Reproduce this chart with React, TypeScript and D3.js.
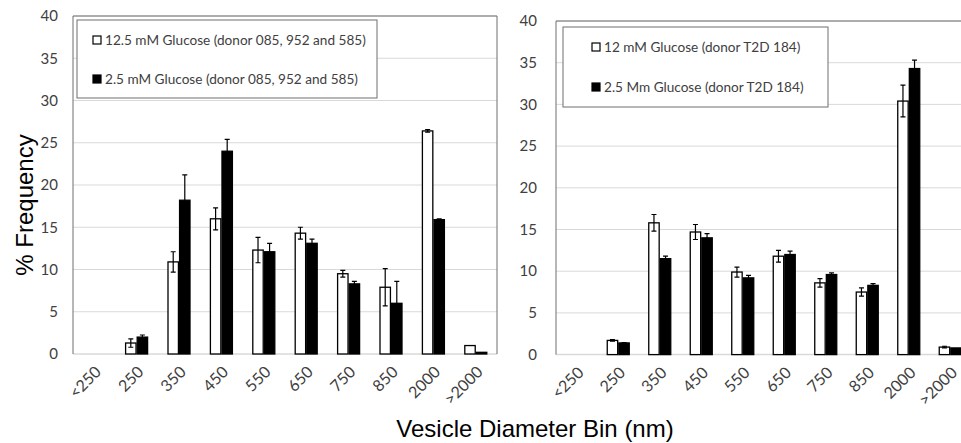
import React, { useEffect, useRef } from 'react';
import * as d3 from 'd3';

const categories = ['<250', '250', '350', '450', '550', '650', '750', '850', '2000', '>2000'];
const yTicks = [0, 5, 10, 15, 20, 25, 30, 35, 40];

// left panel: donors 085, 952 and 585
const leftHigh = [0, 1.3, 10.9, 16.0, 12.3, 14.3, 9.5, 7.9, 26.4, 1.0];
const leftHighErr = [0, 0.5, 1.2, 1.3, 1.5, 0.7, 0.4, 2.2, 0.15, 0];
const leftLow = [0, 2.0, 18.2, 24.0, 12.1, 13.1, 8.3, 6.0, 15.9, 0.2];
const leftLowErr = [0, 0.25, 3.0, 1.4, 1.0, 0.5, 0.3, 2.6, 0.1, 0];
const leftLegend = ['12.5 mM Glucose (donor 085, 952 and 585)', '2.5 mM Glucose (donor 085, 952 and 585)'];

// right panel: donor T2D 184
const rightHigh = [0, 1.7, 15.8, 14.7, 9.9, 11.8, 8.6, 7.5, 30.4, 0.9];
const rightHighErr = [0, 0.1, 1.0, 0.9, 0.6, 0.7, 0.5, 0.5, 1.9, 0.1];
const rightLow = [0, 1.4, 11.5, 14.0, 9.2, 12.0, 9.6, 8.3, 34.3, 0.8];
const rightLowErr = [0, 0.05, 0.3, 0.5, 0.3, 0.4, 0.2, 0.2, 1.0, 0];
const rightLegend = ['12 mM Glucose (donor T2D 184)', '2.5 Mm Glucose (donor T2D 184)'];

const tickFont = 'Lato, "Open Sans", sans-serif';
const titleFont = '"Liberation Sans", Arial, sans-serif';

type Panel = {
  x0: number; x1: number; yTop: number; yBottom: number;
  labelX: number;
  high: number[]; highErr: number[]; low: number[]; lowErr: number[];
  legend: string[];
  legendBox: { x: number; y: number; w: number; h: number; sx: number; rows: number[] };
};

const drawPanel = (svg: d3.Selection<SVGSVGElement, unknown, null, undefined>, p: Panel) => {
  const g = svg.append('g');

  const xScale = d3.scaleBand<string>().domain(categories).range([p.x0, p.x1]);
  const yScale = d3.scaleLinear().domain([0, 40]).range([p.yBottom, p.yTop]);
  const bw = xScale.bandwidth();
  const sub = d3.scaleBand<string>().domain(['high', 'low']).range([bw / 2 - 11, bw / 2 + 11]).paddingInner(0.1);

  // gridlines
  g.selectAll('.grid')
    .data(yTicks.filter(t => t > 0))
    .enter()
    .append('line')
    .attr('x1', p.x0).attr('x2', p.x1)
    .attr('y1', d => yScale(d)).attr('y2', d => yScale(d))
    .attr('stroke', '#d9d9d9').attr('stroke-width', 1);

  // baseline
  g.append('line')
    .attr('x1', p.x0).attr('x2', p.x1)
    .attr('y1', yScale(0)).attr('y2', yScale(0))
    .attr('stroke', '#d9d9d9').attr('stroke-width', 1.5);

  // frame (left, top, right)
  g.append('path')
    .attr('d', `M${p.x0},${p.yBottom} V${p.yTop} H${p.x1} V${p.yBottom}`)
    .attr('fill', 'none').attr('stroke', '#6e6e6e').attr('stroke-width', 1);

  // y tick labels
  g.selectAll('.ytick')
    .data(yTicks)
    .enter()
    .append('text')
    .attr('x', p.labelX)
    .attr('y', d => yScale(d))
    .attr('dy', '0.35em')
    .attr('text-anchor', 'end')
    .attr('font-family', tickFont).attr('font-size', 15).attr('fill', '#404040')
    .text(d => d);

  // x tick labels, rotated
  g.selectAll('.xtick')
    .data(categories)
    .enter()
    .append('text')
    .attr('transform', d => `translate(${(xScale(d) as number) + bw / 2 + 4},${p.yBottom + 15}) rotate(-45)`)
    .attr('text-anchor', 'end')
    .attr('dy', '0.35em')
    .attr('font-family', tickFont).attr('font-size', 16).attr('fill', '#404040')
    .text(d => d);

  const series = [
    { key: 'high', vals: p.high, errs: p.highErr, fill: '#ffffff' },
    { key: 'low', vals: p.low, errs: p.lowErr, fill: '#000000' }
  ];

  series.forEach(s => {
    const rows = categories.map((c, i) => ({ c, v: s.vals[i], e: s.errs[i] })).filter(d => d.v > 0);
    const sw = sub.bandwidth();
    g.selectAll(`.bar-${s.key}`)
      .data(rows)
      .enter()
      .append('rect')
      .attr('x', d => (xScale(d.c) as number) + (sub(s.key) as number))
      .attr('y', d => yScale(d.v))
      .attr('width', sw)
      .attr('height', d => yScale(0) - yScale(d.v))
      .attr('fill', s.fill)
      .attr('stroke', '#000').attr('stroke-width', 1.3);

    const errRows = rows.filter(d => d.e > 0);
    const cx = (d: { c: string }) => (xScale(d.c) as number) + (sub(s.key) as number) + sw / 2;
    g.selectAll(`.err-${s.key}`)
      .data(errRows)
      .enter()
      .append('path')
      .attr('d', d => {
        const x = cx(d);
        const yt = yScale(d.v + d.e);
        const yb = yScale(d.v - d.e);
        return `M${x},${yt} V${yb} M${x - 2.5},${yt} H${x + 2.5} M${x - 2.5},${yb} H${x + 2.5}`;
      })
      .attr('fill', 'none')
      .attr('stroke', '#000')
      .attr('stroke-width', 1.2);
  });

  // legend
  const lb = p.legendBox;
  const lg = g.append('g');
  lg.append('rect')
    .attr('x', lb.x).attr('y', lb.y).attr('width', lb.w).attr('height', lb.h)
    .attr('fill', '#fff').attr('stroke', '#6e6e6e').attr('stroke-width', 1);
  p.legend.forEach((label, i) => {
    lg.append('rect')
      .attr('x', lb.sx).attr('y', lb.rows[i] - 4).attr('width', 8).attr('height', 8)
      .attr('fill', series[i].fill).attr('stroke', '#000').attr('stroke-width', 1.2);
    lg.append('text')
      .attr('x', lb.sx + 12).attr('y', lb.rows[i])
      .attr('dy', '0.35em')
      .attr('font-family', tickFont).attr('font-size', 13.6).attr('fill', '#404040')
      .text(label);
  });
};

const App = () => {
  const ref = useRef<SVGSVGElement>(null);

  useEffect(() => {
    const svg = d3.select(ref.current as SVGSVGElement);
    svg.selectAll('*').remove();

    svg.append('rect').attr('width', 961).attr('height', 443).attr('fill', '#fff');

    drawPanel(svg, {
      x0: 73, x1: 497, yTop: 16, yBottom: 354, labelX: 58,
      high: leftHigh, highErr: leftHighErr, low: leftLow, lowErr: leftLowErr,
      legend: leftLegend,
      legendBox: { x: 77, y: 20, w: 300, h: 78, sx: 93, rows: [40, 79] }
    });

    drawPanel(svg, {
      x0: 556, x1: 971, yTop: 21, yBottom: 354.6, labelX: 537,
      high: rightHigh, highErr: rightHighErr, low: rightLow, lowErr: rightLowErr,
      legend: rightLegend,
      legendBox: { x: 563, y: 27, w: 265, h: 80, sx: 592, rows: [47, 87] }
    });

    // axis titles
    svg.append('text')
      .attr('transform', 'translate(33,205) rotate(-90)')
      .attr('text-anchor', 'middle')
      .attr('font-family', titleFont).attr('font-size', 24).attr('fill', '#000')
      .text('% Frequency');

    svg.append('text')
      .attr('x', 535).attr('y', 437)
      .attr('text-anchor', 'middle')
      .attr('font-family', titleFont).attr('font-size', 24).attr('fill', '#000')
      .text('Vesicle Diameter Bin (nm)');
  }, []);

  return (
    <svg ref={ref} width={961} height={443}
      style={{ position: 'absolute', left: 0, top: 0, display: 'block' }} />
  );
};

export default App;
